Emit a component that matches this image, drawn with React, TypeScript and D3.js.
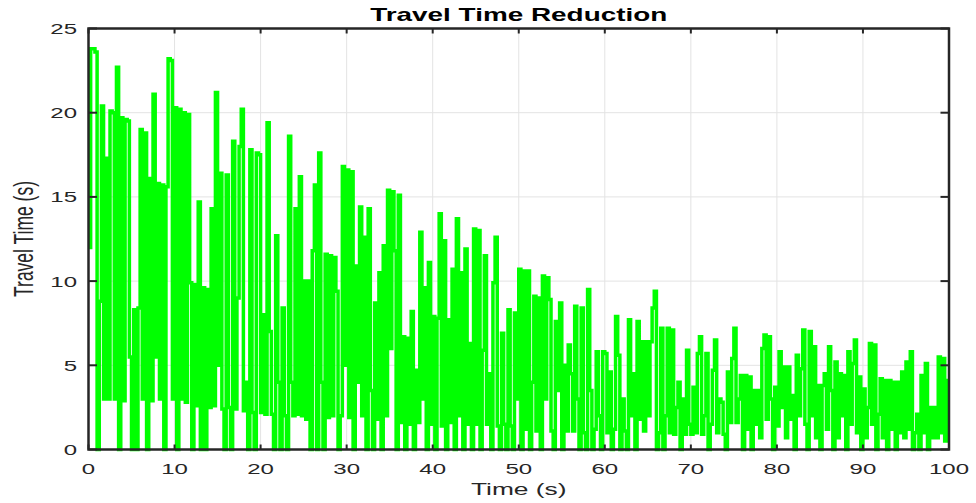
import * as d3 from 'd3';
import React from 'react';

// sampled every 0.25 s, one array per 10 s of simulation
const SAMPLE_STEP = 0.25;

const decade0 = [12, 23.8, 23.8, 23.6, 0, 8.8, 20.4, 3, 17.3, 3, 20.1, 20.0, 3, 22.7, 0, 19.7, 2.9, 19.6, 19.5, 5.5,
  0, 8.3, 0, 8.4, 19.0, 3, 18.8, 0, 16.1, 2.9, 21.1, 5.5, 15.8, 3, 15.7, 0, 15.6, 23.2, 23.1, 3];
const decade1 = [20.3, 0, 20.2, 3, 20.0, 2.8, 19.9, 9.9, 0, 9.8, 2.6, 14.7, 0, 9.6, 0, 9.5, 2.5, 14.3, 2.6, 21.2,
  5, 16.4, 2.4, 0, 16.3, 2.5, 0, 18.3, 2.4, 9, 18.0, 20.2, 2.3, 4, 0, 17.8, 2.2, 0, 17.6, 17.5];
const decade2 = [2.2, 8, 2.1, 19.4, 7, 2.1, 0, 12.7, 4, 0, 8.4, 2, 0, 18.6, 4, 2, 14.3, 2.1, 16.2, 2,
  10.0, 1.8, 10.0, 0, 11.8, 15.7, 0, 17.6, 4, 0, 11.6, 1.9, 11.5, 2, 11.4, 9.4, 0, 2, 16.8, 5];
const decade3 = [16.6, 1.9, 16.5, 0, 10.9, 4, 14.4, 2, 12.6, 0, 14.3, 3.5, 0, 8.7, 1.8, 10.5, 0, 12.1, 2, 15.4,
  6, 15.3, 11.8, 0, 15.1, 1.6, 6.7, 0, 6.6, 1.5, 8.2, 0, 4.7, 1.6, 12.9, 3, 9.6, 0, 11.1, 1.5];
const decade4 = [7.9, 0, 7.8, 14.0, 1.4, 12.4, 0, 7.7, 1.6, 10.7, 0, 13.7, 2, 10.5, 0, 11.9, 1.5, 6.3, 0, 13.1,
  1.5, 13.0, 0, 5.9, 11.5, 1.5, 4.5, 0, 9.9, 12.6, 1.4, 0, 6.9, 1.5, 0, 8.3, 1.4, 0, 8.1, 3];
const decade5 = [10.7, 0, 10.6, 1.2, 10.6, 0, 4, 9.1, 1.1, 9.0, 0, 10.3, 3, 10.2, 8.9, 1.1, 0, 7.6, 3.5, 8.7,
  0, 5, 1.1, 6.2, 4.5, 1.1, 8.5, 3, 0, 8.4, 1, 0, 9.5, 3.5, 0, 1.2, 5.8, 2, 0, 5.8];
const decade6 = [5.7, 1, 4.6, 0, 1.2, 7.9, 5.6, 0, 3, 1.1, 0, 7.7, 2, 4.5, 0, 7.6, 1.8, 6.4, 1.1, 6.4,
  2, 6.4, 8.4, 9.4, 0, 1, 7.2, 0, 2, 7.2, 1, 7.1, 0.9, 2.5, 4.0, 0, 3.0, 0.9, 5.9, 1.5];
const decade7 = [0.9, 3.7, 1, 5.7, 6.7, 0.9, 2, 5.7, 0, 1.5, 4.7, 6.5, 1, 3, 2.8, 0.9, 0, 4.6, 1.6, 5.4,
  7.2, 1.6, 3, 4.4, 0, 4.4, 1.2, 4.3, 0, 3.5, 1.5, 3.5, 0.7, 6.0, 6.8, 1.8, 6.7, 3, 0, 3.7];
const decade8 = [1.4, 5.8, 2.5, 4.9, 0.7, 4.9, 1.8, 3.2, 0, 5.6, 2, 4.8, 7.1, 1.5, 0, 7.0, 2, 6.1, 0.7, 3.8,
  0, 3.8, 4.5, 1.2, 6.1, 3.5, 0, 5.2, 0.7, 4.5, 2, 4.4, 0, 5.8, 1.5, 5.1, 6.5, 1, 4.3, 0];
const decade9 = [3.6, 0.7, 2.5, 6.3, 1.5, 6.2, 0, 2.1, 4.2, 0.7, 4.1, 0, 4.1, 1.2, 4.0, 0, 4.0, 1, 4.6, 0.7,
  5.2, 1.2, 5.8, 0, 1, 2.1, 0, 4.4, 1, 5.1, 0, 2.5, 0.7, 2.5, 0.7, 5.5, 1, 5.4, 0.5, 4.1, 4.1];

const travelTime = [...decade0, ...decade1, ...decade2, ...decade3, ...decade4,
  ...decade5, ...decade6, ...decade7, ...decade8, ...decade9];

const xTicks = [0, 10, 20, 30, 40, 50, 60, 70, 80, 90, 100];
const yTicks = [0, 5, 10, 15, 20, 25];

const W = 976;
const H = 503;
const STRETCH = 1.55; // the picture is wider than it is tall, text too
const INK = '#262626';

export default function App() {
  const x = d3.scaleLinear().domain([0, 100]).range([88.5, 949]);
  const y = d3.scaleLinear().domain([0, 25]).range([449.5, 28.5]);

  const line = d3.line<number>()
    .x((_, i) => x(i * SAMPLE_STEP))
    .y(d => y(d))
    .curve(d3.curveStepAfter);

  const [x0, x1] = x.range();
  const [y0, y1] = y.range();

  return (
    <svg width={W} height={H} style={{ position: 'absolute', left: 0, top: 0, background: '#fff' }}
      fontFamily="'Liberation Sans', Arial, sans-serif">
      {/* grid */}
      <g stroke="#e3e3e3" strokeWidth={1}>
        {xTicks.slice(1, -1).map(t => <line key={'gx' + t} x1={x(t)} x2={x(t)} y1={y1} y2={y0} />)}
        {yTicks.slice(1, -1).map(t => <line key={'gy' + t} x1={x0} x2={x1} y1={y(t)} y2={y(t)} />)}
      </g>

      <path d={line(travelTime) || ''} fill="none" stroke="#00ff00" strokeWidth={3.5} strokeLinejoin="miter" />

      {/* box + inward ticks */}
      <g stroke={INK} strokeWidth={2}>
        <rect x={x0} y={y1} width={x1 - x0} height={y0 - y1} fill="none" strokeWidth={2.5} />
        {xTicks.map(t => (
          <g key={'tx' + t}>
            <line x1={x(t)} x2={x(t)} y1={y0} y2={y0 - 5} />
            <line x1={x(t)} x2={x(t)} y1={y1} y2={y1 + 5} />
          </g>
        ))}
        {yTicks.map(t => (
          <g key={'ty' + t}>
            <line x1={x0} x2={x0 + 8.5} y1={y(t)} y2={y(t)} />
            <line x1={x1} x2={x1 - 8.5} y1={y(t)} y2={y(t)} />
          </g>
        ))}
      </g>

      <g fill={INK} fontSize={15.5}>
        {xTicks.map(t => (
          <text key={'lx' + t} transform={`translate(${x(t)},${474}) scale(${STRETCH},1)`} textAnchor="middle">{t}</text>
        ))}
        {yTicks.map(t => (
          <text key={'ly' + t} transform={`translate(${77},${y(t) + 5.5}) scale(${STRETCH},1)`} textAnchor="end">{t}</text>
        ))}
      </g>

      <text transform={`translate(${(x0 + x1) / 2},${495}) scale(${STRETCH},1)`} textAnchor="middle"
        fontSize={17} fill={INK}>Time (s)</text>
      <text transform={`translate(${33},${(y0 + y1) / 2}) scale(${STRETCH},1) rotate(-90)`} textAnchor="middle"
        fontSize={17.5} fill={INK}>Travel Time (s)</text>
      <text transform={`translate(${(x0 + x1) / 2},${21}) scale(${STRETCH},1)`} textAnchor="middle"
        fontSize={18} fontWeight="bold" fill="#000">Travel Time Reduction</text>
    </svg>
  );
}
